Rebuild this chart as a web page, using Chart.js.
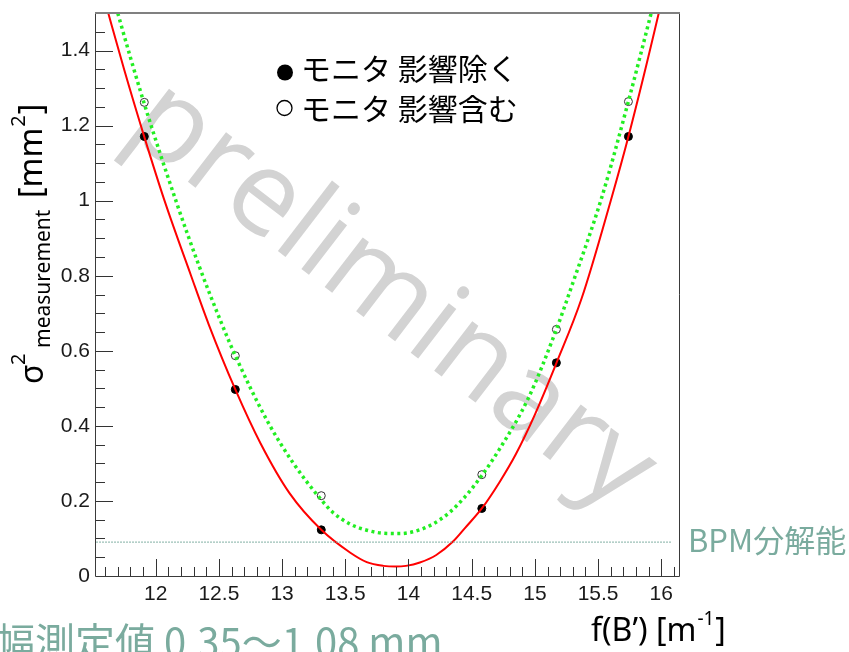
<!DOCTYPE html>
<html>
<head>
<meta charset="utf-8">
<script src="https://cdn.jsdelivr.net/npm/chart.js@4.4.1/dist/chart.umd.min.js"></script>
<style>
    body { margin: 0; background: #fff; }
    #wrap { width: 849px; height: 652px; }
</style>
</head>
<body>
<div id="wrap"><canvas id="chartfield" width="849" height="652"></canvas></div>
<script>
// measured points, f(B') vs sigma^2
const fB = [11.91, 12.63, 13.31, 14.58, 15.17, 15.74];
const sigmaExcl = [1.171, 0.497, 0.123, 0.180, 0.568, 1.171];
const sigmaIncl = [1.262, 0.587, 0.214, 0.270, 0.657, 1.264];

// fit curves
const fitExclX = [11.60, 11.75, 11.91, 12.07, 12.28, 12.42, 12.63, 12.83, 13.06, 13.31,
    13.54, 13.67, 13.80, 13.90, 13.98, 14.09, 14.22, 14.35, 14.45, 14.58,
    14.72, 14.85, 15.00, 15.17, 15.37, 15.60, 15.74, 15.98, 16.04];
const fitExclY = [1.53, 1.35, 1.17, 1.00, 0.80, 0.67, 0.497, 0.353, 0.22, 0.123,
    0.062, 0.037, 0.027, 0.025, 0.027, 0.036, 0.056, 0.091, 0.129, 0.18,
    0.25, 0.325, 0.43, 0.567, 0.74, 1.00, 1.171, 1.50, 1.59];

const fitInclX = [11.66, 11.70, 11.91, 12.17, 12.35, 12.525, 12.63, 12.88, 13.09, 13.30,
    13.40, 13.54, 13.67, 13.80, 13.93, 14.06, 14.19, 14.32, 14.45, 14.58,
    14.72, 14.95, 15.17, 15.29, 15.53, 15.74, 15.92, 15.98];
const fitInclY = [1.55, 1.50, 1.258, 0.99, 0.82, 0.67, 0.587, 0.415, 0.30, 0.207,
    0.17, 0.138, 0.122, 0.114, 0.113, 0.12, 0.138, 0.168, 0.212, 0.268,
    0.338, 0.475, 0.657, 0.771, 1.01, 1.265, 1.50, 1.58];

// BPM resolution level
const bpmX = [11.53, 16.08];
const bpmLevel = 0.09;

const xTickValues = [12, 12.5, 13, 13.5, 14, 14.5, 15, 15.5, 16];
const yTickValues = [0, 0.2, 0.4, 0.6, 0.8, 1, 1.2, 1.4];

const legendLabels = ["モニタ 影響除く", "モニタ 影響含む"];

const TEAL = "#7aab9e";
const TICK_FONT = { family: "'Liberation Sans', Arial, sans-serif", size: 21 };

function toXY(xs, ys) {
    return xs.map((x, i) => ({ x: x, y: ys[i] }));
}

function drawRotatedTitle(ctx) {
    // sigma^2_measurement [mm^2], read bottom to top
    ctx.save();
    ctx.rotate(-Math.PI / 2);
    ctx.fillStyle = "#000";
    ctx.textBaseline = "alphabetic";
    ctx.textAlign = "left";
    const big = "32px 'Noto Sans', sans-serif";
    const small = "20px 'Noto Sans', sans-serif";
    const sub = "21px 'Noto Sans', sans-serif";

    ctx.font = big;
    ctx.fillText("σ", -384, 43);
    ctx.font = small;
    ctx.fillText("2", -365, 25);
    ctx.font = sub;
    ctx.fillText("measurement", -348, 50);

    let u = -198;
    ctx.font = big;
    ctx.fillText("[mm", u, 42);
    u += ctx.measureText("[mm").width;
    ctx.font = small;
    ctx.fillText("2", u + 1, 25);
    u += ctx.measureText("2").width + 2;
    ctx.font = big;
    ctx.fillText("]", u, 42);
    ctx.restore();
}

const rootStyle = {
    id: "rootStyle",
    beforeDatasetsDraw(chart) {
        const ctx = chart.ctx;
        // watermark
        ctx.save();
        ctx.fillStyle = "#d3d3d3";
        ctx.translate(390, 298);
        ctx.rotate((37.5 * Math.PI) / 180);
        ctx.font = "500 117px 'Open Sans', sans-serif";
        ctx.textAlign = "center";
        ctx.textBaseline = "alphabetic";
        ctx.fillText("preliminary", 0, 31);
        ctx.restore();
    },
    afterDatasetsDraw(chart) {
        const ctx = chart.ctx;
        const area = chart.chartArea;
        const xs = chart.scales.x;
        const ys = chart.scales.y;

        ctx.save();
        ctx.strokeStyle = "#333";
        ctx.lineWidth = 1;
        ctx.beginPath();
        // major and minor ticks on the left axis
        for (let i = 1; i < 30; i++) {
            const v = i * 0.05;
            const py = Math.round(ys.getPixelForValue(v)) + 0.5;
            const len = i % 4 === 0 ? 18 : 10;
            ctx.moveTo(area.left, py);
            ctx.lineTo(area.left + len, py);
        }
        // major and minor ticks on the bottom axis
        for (let i = 116; i <= 161; i++) {
            const v = i / 10;
            const px = Math.round(xs.getPixelForValue(v)) + 0.5;
            const len = i % 5 === 0 ? 17 : 9;
            ctx.moveTo(px, area.bottom);
            ctx.lineTo(px, area.bottom - len);
        }
        ctx.stroke();

        // frame
        ctx.strokeStyle = "#3a3a3a";
        ctx.beginPath();
        ctx.moveTo(Math.round(area.left) + 0.5, area.top);
        ctx.lineTo(Math.round(area.left) + 0.5, Math.round(area.bottom) + 0.5);
        ctx.lineTo(Math.round(area.right) + 0.5, Math.round(area.bottom) + 0.5);
        ctx.lineTo(Math.round(area.right) + 0.5, area.top);
        ctx.stroke();
        ctx.strokeStyle = "#808080";
        ctx.lineWidth = 2;
        ctx.beginPath();
        ctx.moveTo(area.left, Math.round(area.top));
        ctx.lineTo(area.right + 1, Math.round(area.top));
        ctx.stroke();
        ctx.restore();
    },
    afterDraw(chart) {
        const ctx = chart.ctx;
        ctx.save();

        // legend
        ctx.fillStyle = "#000";
        ctx.beginPath();
        ctx.arc(285, 72.5, 8, 0, Math.PI * 2);
        ctx.fill();
        ctx.strokeStyle = "#000";
        ctx.lineWidth = 1.3;
        ctx.beginPath();
        ctx.arc(284.5, 108, 7.5, 0, Math.PI * 2);
        ctx.stroke();
        ctx.font = "30px 'Noto Sans CJK JP', sans-serif";
        ctx.textBaseline = "middle";
        ctx.textAlign = "left";
        ctx.fillText(legendLabels[0], 301, 69);
        ctx.fillText(legendLabels[1], 301, 109);

        // BPM label
        ctx.fillStyle = TEAL;
        ctx.font = "31px 'Noto Sans CJK JP', sans-serif";
        ctx.fillText("BPM分解能", 688, 540);

        // bottom note, cut by the page edge
        ctx.font = "40px 'Noto Sans CJK JP', sans-serif";
        ctx.textBaseline = "alphabetic";
        ctx.fillText("幅測定値 0.35〜1.08 mm", -5, 657);

        // x title
        ctx.fillStyle = "#000";
        ctx.font = "32px 'Noto Sans', sans-serif";
        let x = 591;
        ctx.fillText("f(B’) [m", x, 641);
        x += ctx.measureText("f(B’) [m").width;
        ctx.font = "19px 'Noto Sans', sans-serif";
        ctx.fillText("-1", x + 1, 625);
        x += ctx.measureText("-1").width + 2;
        ctx.font = "32px 'Noto Sans', sans-serif";
        ctx.fillText("]", x, 641);

        drawRotatedTitle(ctx);
        ctx.restore();
    },
};

function drawChart(canvas) {
    return new Chart(canvas, {
        type: "scatter",
        data: {
            datasets: [
                {
                    label: "BPM",
                    data: toXY(bpmX, [bpmLevel, bpmLevel]),
                    showLine: true,
                    borderColor: TEAL,
                    borderWidth: 1.3,
                    borderDash: [1.5, 1.5],
                    pointRadius: 0,
                },
                {
                    label: "fit excl",
                    data: toXY(fitExclX, fitExclY),
                    showLine: true,
                    borderColor: "#ff0000",
                    borderWidth: 2,
                    cubicInterpolationMode: "monotone",
                    pointRadius: 0,
                },
                {
                    label: "fit incl",
                    data: toXY(fitInclX, fitInclY),
                    showLine: true,
                    borderColor: "#22ee22",
                    borderWidth: 3.5,
                    borderDash: [3, 3.5],
                    cubicInterpolationMode: "monotone",
                    pointRadius: 0,
                },
                {
                    label: legendLabels[0],
                    data: toXY(fB, sigmaExcl),
                    pointRadius: 4,
                    pointBackgroundColor: "#000",
                    pointBorderColor: "#000",
                    pointBorderWidth: 1,
                },
                {
                    label: legendLabels[1],
                    data: toXY(fB, sigmaIncl),
                    pointRadius: 4,
                    pointBackgroundColor: "rgba(255,255,255,0)",
                    pointBorderColor: "#333",
                    pointBorderWidth: 1,
                },
            ],
        },
        options: {
            responsive: false,
            animation: false,
            devicePixelRatio: 1,
            layout: { padding: { left: 0, top: 13, right: 170, bottom: 0 } },
            plugins: {
                legend: { display: false },
                tooltip: { enabled: false },
            },
            scales: {
                x: {
                    type: "linear",
                    min: 11.52,
                    max: 16.14,
                    grid: { display: false, drawTicks: false },
                    border: { display: false },
                    afterBuildTicks(scale) {
                        scale.ticks = xTickValues.map((v) => ({ value: v }));
                    },
                    afterFit(scale) {
                        scale.height = 76;
                        scale.paddingLeft = 0;
                        scale.paddingRight = 0;
                    },
                    ticks: {
                        autoSkip: false,
                        maxRotation: 0,
                        padding: 6,
                        color: "#1a1a1a",
                        font: TICK_FONT,
                        callback: (v) => String(v),
                    },
                },
                y: {
                    type: "linear",
                    min: 0,
                    max: 1.5,
                    grid: { display: false, drawTicks: false },
                    border: { display: false },
                    afterBuildTicks(scale) {
                        scale.ticks = yTickValues.map((v) => ({ value: v }));
                    },
                    afterFit(scale) {
                        scale.width = 95;
                        scale.paddingTop = 0;
                        scale.paddingBottom = 0;
                    },
                    ticks: {
                        autoSkip: false,
                        padding: 5,
                        color: "#1a1a1a",
                        font: TICK_FONT,
                        callback: (v) => String(v),
                    },
                },
            },
        },
        plugins: [rootStyle],
    });
}

let chart = null;

document.addEventListener("DOMContentLoaded", () => {
    const chartCanvas = document.querySelector("#chartfield").getContext("2d");
    chart = drawChart(chartCanvas);
});
</script>
</body>
</html>
